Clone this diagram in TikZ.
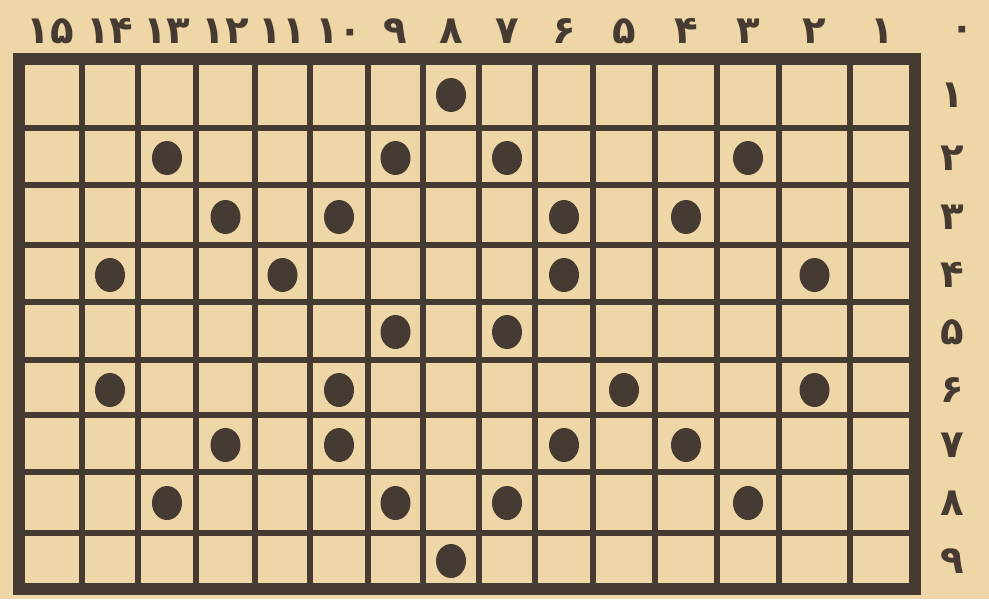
\documentclass[tikz,border=0pt]{standalone}
\usepackage{fontspec}
\newfontfamily\arabicfont[Script=Arabic]{DejaVu Sans}
\usepackage{xcolor}

\definecolor{paper}{HTML}{EFD6A6}
\definecolor{ink}{HTML}{463B32}

\tikzset{
  numlabel/.style={text=ink, inner sep=0pt, font=\arabicfont\bfseries\fontsize{22}{22}\selectfont},
  stone/.style={ellipse, fill=ink, minimum width=0.6cm, minimum height=0.68cm, inner sep=0pt},
  gridline/.style={draw=ink, line width=3pt},
  frameline/.style={draw=ink, line width=7pt}
}

\usetikzlibrary{shapes.geometric}

\begin{document}
\begin{tikzpicture}[x=0.02cm, y=-0.02cm]

\fill[paper] (0,0) rectangle (989,599);
\useasboundingbox (0,0) rectangle (989,599);

% column numbers, counted from the right
\foreach \n/\xpos/\txt in {1/882.5/۱, 2/814.5/۲, 3/748/۳, 4/686/۴, 5/624/۵,
    6/564/۶, 7/507/۷, 8/451/۸, 9/395.5/۹, 10/339/۱۰, 11/282.5/۱۱,
    12/225.5/۱۲, 13/167/۱۳, 14/110/۱۴, 15/50.5/۱۵}
  \node[numlabel] (c\n) at (\xpos,31) {\txt};

% row numbers down the right side
\node[numlabel] (r0) at (962,33) {۰};
\foreach \n/\ypos/\txt in {1/95/۱, 2/158/۲, 3/217/۳, 4/275/۴, 5/332/۵,
    6/390/۶, 7/445/۷, 8/503/۸, 9/561/۹}
  \node[numlabel] (r\n) at (952,\ypos) {\txt};

% the board
\foreach \xpos in {82,138,196,255,310,368,423,479,535,593,655,717,779,850}
  \draw[gridline] (\xpos,59) -- (\xpos,589);
\foreach \ypos in {128,185,245,302,360,415,472,533}
  \draw[gridline] (19,\ypos) -- (915,\ypos);
\draw[frameline] (19,59) rectangle (915,589);

% stones: row/column
\foreach \row/\col in {1/8,
    2/13, 2/9, 2/7, 2/3,
    3/12, 3/10, 3/6, 3/4,
    4/14, 4/11, 4/6, 4/2,
    5/9, 5/7,
    6/14, 6/10, 6/5, 6/2,
    7/12, 7/10, 7/6, 7/4,
    8/13, 8/9, 8/7, 8/3,
    9/8}
  \node[stone] (s\row-\col) at (c\col |- r\row) {};

\end{tikzpicture}
\end{document}
